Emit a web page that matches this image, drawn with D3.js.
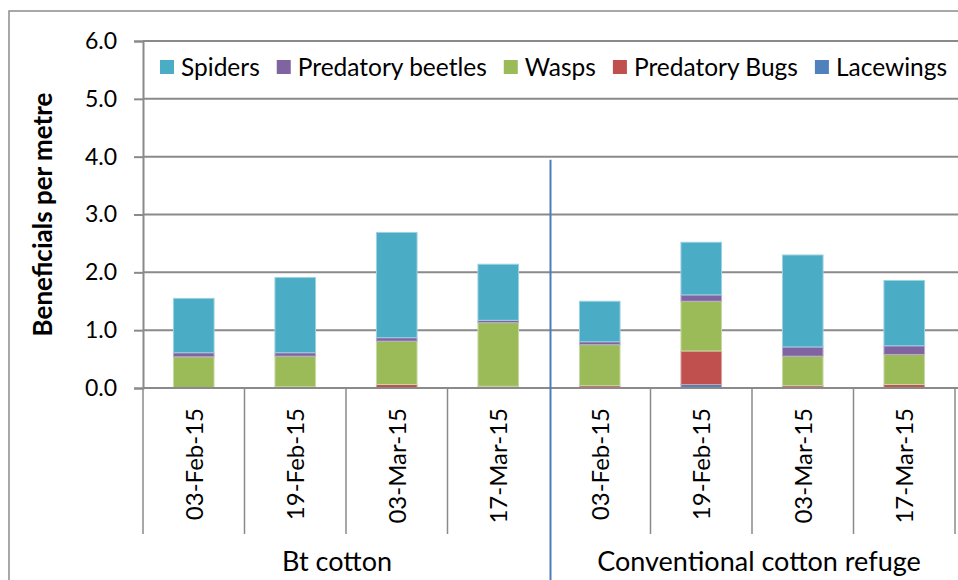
<!DOCTYPE html>
<html>
<head>
<meta charset="utf-8">
<script src="https://cdn.jsdelivr.net/npm/d3@7"></script>
<style>
  html, body { margin: 0; padding: 0; background: #fff; }
  svg { display: block; }
  text { font-family: Lato, "Open Sans", sans-serif; fill: #000; }
</style>
</head>
<body>
<svg id="chart" width="958" height="580"></svg>
<script>
// Sampling dates within each field
const dates = ["03-Feb-15", "19-Feb-15", "03-Mar-15", "17-Mar-15",
               "03-Feb-15", "19-Feb-15", "03-Mar-15", "17-Mar-15"];
const fields = ["Bt cotton", "Conventional cotton refuge"];

// Beneficials per metre, by group (stacked bottom to top)
const lacewings        = [0.00, 0.00, 0.00, 0.01, 0.01, 0.06, 0.01, 0.01];
const predatoryBugs    = [0.00, 0.02, 0.06, 0.02, 0.03, 0.58, 0.03, 0.05];
const wasps            = [0.54, 0.53, 0.75, 1.10, 0.71, 0.86, 0.51, 0.52];
const predatoryBeetles = [0.07, 0.06, 0.06, 0.04, 0.05, 0.11, 0.16, 0.15];
const spiders          = [0.94, 1.30, 1.82, 0.97, 0.70, 0.91, 1.59, 1.13];

const seriesNames  = ["Lacewings", "Predatory Bugs", "Wasps", "Predatory beetles", "Spiders"];
const seriesValues = [lacewings, predatoryBugs, wasps, predatoryBeetles, spiders];
const seriesColors = ["#4f81bd", "#c0504d", "#9bbb59", "#8064a2", "#4bacc6"];

const yTicks = [0, 1, 2, 3, 4, 5, 6];

const svg = d3.select("#chart");
const gridColor = "#8a8a8a";

// Outer chart frame
svg.append("rect")
  .attr("x", 9).attr("y", 11)
  .attr("width", 980).attr("height", 600)
  .attr("fill", "none").attr("stroke", "#8c8c8c").attr("stroke-width", 1.5);

const plot = { left: 143, right: 955, top: 41, bottom: 388 };

const idx = d3.range(dates.length);
const x = d3.scaleBand()
  .domain(idx)
  .range([plot.left, plot.right])
  .paddingInner(0.6)
  .paddingOuter(0.3);
const step = x.step();
const edge = i => plot.left + i * step;

const y = d3.scaleLinear().domain([0, 6]).range([plot.bottom, plot.top]);

// Gridlines
svg.append("g")
  .selectAll("line")
  .data(yTicks.filter(t => t > 0))
  .join("line")
  .attr("x1", plot.left).attr("x2", 958)
  .attr("y1", d => y(d)).attr("y2", d => y(d))
  .attr("stroke", gridColor).attr("stroke-width", 2);

// Value axis
const yAxis = d3.axisLeft(y)
  .tickValues(yTicks)
  .tickFormat(d3.format(".1f"))
  .tickSize(9)
  .tickPadding(17);
const gy = svg.append("g")
  .attr("transform", `translate(${plot.left},0)`)
  .call(yAxis);
gy.select(".domain").attr("stroke", gridColor).attr("stroke-width", 2);
gy.selectAll(".tick line").attr("stroke", gridColor).attr("stroke-width", 2);
gy.selectAll(".tick text")
  .style("font-family", "Lato, sans-serif")
  .style("font-size", "23px")
  .attr("fill", "#000");

// Stacked bars
const table = idx.map(i => {
  const row = { i };
  seriesNames.forEach((n, k) => { row[n] = seriesValues[k][i]; });
  return row;
});
const stacked = d3.stack().keys(seriesNames)(table);

const layers = svg.append("g")
  .selectAll("g")
  .data(stacked)
  .join("g")
  .attr("fill", (d, k) => seriesColors[k])
  .attr("stroke", (d, k) => d3.interpolateRgb(seriesColors[k], "#ffffff")(0.45))
  .attr("stroke-width", 1);

layers.selectAll("rect")
  .data(d => d)
  .join("rect")
  .attr("x", d => x(d.data.i))
  .attr("width", x.bandwidth())
  .attr("y", d => y(d[1]))
  .attr("height", d => Math.max(0, y(d[0]) - y(d[1])));

// Category axis line
svg.append("line")
  .attr("x1", plot.left).attr("x2", 958)
  .attr("y1", plot.bottom).attr("y2", plot.bottom)
  .attr("stroke", gridColor).attr("stroke-width", 2);

// Separators between date labels
svg.append("g")
  .selectAll("line")
  .data(d3.range(dates.length + 1).filter(i => i !== 4))
  .join("line")
  .attr("x1", i => edge(i)).attr("x2", i => edge(i))
  .attr("y1", plot.bottom).attr("y2", 534)
  .attr("stroke", gridColor).attr("stroke-width", 1.5);

// Date labels (rotated)
svg.append("g")
  .selectAll("text")
  .data(idx)
  .join("text")
  .attr("transform", i => `translate(${x(i) + x.bandwidth() / 2 + 9},408) rotate(-90)`)
  .attr("text-anchor", "end")
  .style("font-size", "24px")
  .text(i => dates[i]);

// Divider between the two fields
svg.append("line")
  .attr("x1", edge(4) + 1.5).attr("x2", edge(4) + 1.5)
  .attr("y1", y(4) + 3).attr("y2", 580)
  .attr("stroke", "#4a7ebb").attr("stroke-width", 2);

// Field labels
const fieldShift = [-9, 7];
svg.append("g")
  .selectAll("text")
  .data(fields)
  .join("text")
  .attr("x", (d, g) => (edge(g * 4) + edge(g * 4 + 4)) / 2 + fieldShift[g])
  .attr("y", 571)
  .attr("text-anchor", "middle")
  .style("font-size", "27px")
  .text(d => d);

// Value axis title
svg.append("text")
  .attr("transform", `translate(52,${(plot.top + plot.bottom) / 2}) rotate(-90)`)
  .attr("text-anchor", "middle")
  .style("font-size", "26px")
  .style("font-weight", "bold")
  .text("Beneficials per metre");

// Legend (top series first)
const legendOrder = [4, 3, 2, 1, 0];
const legend = svg.append("g").attr("transform", "translate(160,0)");
let lx = 0;
legendOrder.forEach(k => {
  const item = legend.append("g").attr("transform", `translate(${lx},0)`);
  item.append("rect")
    .attr("x", 0).attr("y", 60)
    .attr("width", 14).attr("height", 14)
    .attr("fill", seriesColors[k]);
  const t = item.append("text")
    .attr("x", 21).attr("y", 76)
    .style("font-size", "24.5px")
    .text(seriesNames[k]);
  lx += 21 + t.node().getComputedTextLength() + 17;
});
</script>
</body>
</html>
